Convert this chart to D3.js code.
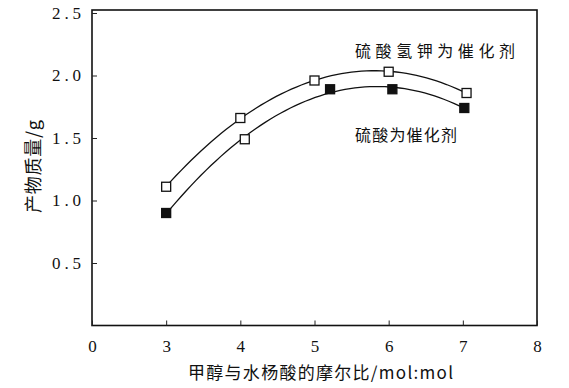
<!DOCTYPE html>
<html>
<head>
<meta charset="utf-8">
<script src="https://cdn.jsdelivr.net/npm/d3@7"></script>
<style>
  html, body { margin: 0; padding: 0; background: #fff; }
  svg { display: block; }
</style>
</head>
<body>
<svg id="chart" width="569" height="388"></svg>
<script>
// x axis ticks (first label printed as "0", axis actually starts at 2)
var xTicks      = [2, 3, 4, 5, 6, 7, 8];
var xTickLabels = ['0', '3', '4', '5', '6', '7', '8'];
var yTicks      = [0.5, 1.0, 1.5, 2.0, 2.5];
var yTickLabels = ['0.5', '1.0', '1.5', '2.0', '2.5'];

// 硫酸氢钾为催化剂 (open squares)
var khso4X = [3, 4, 5, 6, 7.05];
var khso4Y = [1.11, 1.66, 1.96, 2.03, 1.86];

// 硫酸为催化剂 (filled squares)
var h2so4X = [3, 4.06, 5.21, 6.05, 7.02];
var h2so4Y = [0.90, 1.49, 1.89, 1.89, 1.74];

var SERIF = 'Liberation Serif';
var CJK   = 'Noto Sans CJK SC';
var svg = d3.select('#chart');

var x = d3.scaleLinear().domain([2, 8]).range([92, 537]);
var y = d3.scaleLinear().domain([0, 2.5]).range([325.5, 13]);

// frame
svg.append('rect')
  .attr('x', x(2)).attr('y', 10)
  .attr('width', x(8) - x(2)).attr('height', y(0) - 10)
  .attr('fill', 'none').attr('stroke', '#111').attr('stroke-width', 1.6);

var xAxis = svg.append('g')
  .attr('transform', 'translate(0,' + y(0) + ')')
  .call(d3.axisBottom(x).tickValues(xTicks)
    .tickFormat(function(d, i) { return xTickLabels[i]; })
    .tickSizeInner(-5).tickSizeOuter(0).tickPadding(14));
xAxis.select('.domain').remove();

var yAxis = svg.append('g')
  .attr('transform', 'translate(' + x(2) + ',0)')
  .call(d3.axisLeft(y).tickValues(yTicks)
    .tickFormat(function(d, i) { return yTickLabels[i]; })
    .tickSizeInner(-5).tickSizeOuter(0).tickPadding(11));
yAxis.select('.domain').remove();

[xAxis, yAxis].forEach(function(ax) {
  ax.attr('font-family', SERIF).attr('font-size', 17);
  ax.selectAll('.tick line').attr('stroke', '#222');
  ax.selectAll('.tick text')
    .attr('font-family', SERIF)
    .attr('font-size', 17)
    .attr('fill', '#111');
});
yAxis.selectAll('.tick text').attr('textLength', 29);

// quadratic least-squares trend from the points
function quadFit(xs, ys) {
  var n = xs.length, s = [0, 0, 0, 0, 0], t = [0, 0, 0];
  for (var i = 0; i < n; i++) {
    for (var k = 0; k < 5; k++) s[k] += Math.pow(xs[i], k);
    for (var j = 0; j < 3; j++) t[j] += ys[i] * Math.pow(xs[i], j);
  }
  var A = [[s[0], s[1], s[2], t[0]], [s[1], s[2], s[3], t[1]], [s[2], s[3], s[4], t[2]]];
  for (var c = 0; c < 3; c++) {
    for (var r = c + 1; r < 3; r++) {
      var f = A[r][c] / A[c][c];
      for (var m = c; m < 4; m++) A[r][m] -= f * A[c][m];
    }
  }
  var co = [0, 0, 0];
  for (var r2 = 2; r2 >= 0; r2--) {
    var v = A[r2][3];
    for (var m2 = r2 + 1; m2 < 3; m2++) v -= A[r2][m2] * co[m2];
    co[r2] = v / A[r2][r2];
  }
  return function(xv) { return co[0] + co[1] * xv + co[2] * xv * xv; };
}

var line = d3.line().x(function(d) { return x(d); });

function drawCurve(xs, ys) {
  var fn = quadFit(xs, ys);
  var xsamp = d3.range(0, 61).map(function(i) {
    return d3.min(xs) + (d3.max(xs) - d3.min(xs)) * i / 60;
  });
  svg.append('path')
    .datum(xsamp)
    .attr('d', line.y(function(d) { return y(fn(d)); }))
    .attr('fill', 'none').attr('stroke', '#111').attr('stroke-width', 1.3);
}

drawCurve(khso4X, khso4Y);
drawCurve(h2so4X, h2so4Y);

var SQ = 9;
// open squares
svg.selectAll('.open').data(khso4X).enter().append('rect')
  .attr('x', function(d) { return x(d) - SQ / 2; })
  .attr('y', function(d, i) { return y(khso4Y[i]) - SQ / 2; })
  .attr('width', SQ).attr('height', SQ)
  .attr('fill', '#fff').attr('stroke', '#111').attr('stroke-width', 1.3);

// filled squares (second point is printed hollow in the original)
svg.selectAll('.filled').data(h2so4X).enter().append('rect')
  .attr('x', function(d) { return x(d) - SQ / 2; })
  .attr('y', function(d, i) { return y(h2so4Y[i]) - SQ / 2; })
  .attr('width', SQ).attr('height', SQ)
  .attr('fill', function(d, i) { return i === 1 ? '#fff' : '#111'; })
  .attr('stroke', '#111').attr('stroke-width', 1.3);

function label(px, py, size, len, str) {
  return svg.append('text')
    .attr('x', px).attr('y', py)
    .attr('font-family', CJK).attr('font-size', size)
    .attr('fill', '#111').attr('textLength', len)
    .text(str);
}

// annotations
label(355, 57, 16, 160, '硫酸氢钾为催化剂');
label(355, 141, 16, 102, '硫酸为催化剂');

// axis titles
label(188, 379, 17, 265, '甲醇与水杨酸的摩尔比/mol:mol');
label(0, 0, 18, 93, '产物质量/g')
  .attr('transform', 'translate(32,166.5) rotate(-90)')
  .attr('text-anchor', 'middle').attr('dominant-baseline', 'central');
</script>
</body>
</html>
